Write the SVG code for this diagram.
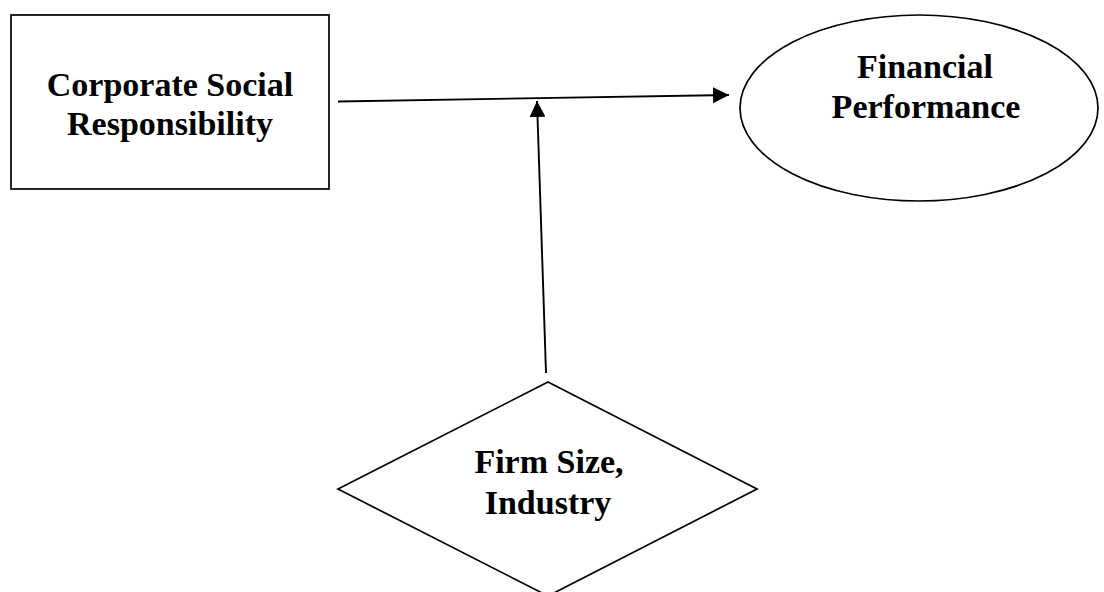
<svg xmlns="http://www.w3.org/2000/svg" width="1104" height="592" viewBox="0 0 1104 592">
<style>
.shape{fill:#fff;stroke:#000;stroke-width:1.7}
.lbl{font-family:"Liberation Serif","Times New Roman",serif;font-weight:bold;font-size:34px;fill:#000;text-anchor:middle}
.conn{stroke:#000;stroke-width:1.9;fill:none}
</style>
<defs>
<marker id="arr" viewBox="0 0 16 16" refX="16" refY="8" markerWidth="16" markerHeight="16" markerUnits="userSpaceOnUse" orient="auto">
<path d="M0,0 L16,8 L0,16 Z" fill="#000"/>
</marker>
</defs>
<rect width="1104" height="592" fill="#fff"/>
<g id="csr">
<rect class="shape" x="11" y="15" width="318" height="174"/>
<text class="lbl" x="170" y="96">Corporate Social</text>
<text class="lbl" x="170" y="135">Responsibility</text>
</g>
<g id="fp">
<ellipse class="shape" cx="919" cy="108" rx="179" ry="93" stroke-width="1.5"/>
<text class="lbl" x="925" y="78">Financial</text>
<text class="lbl" x="926" y="118">Performance</text>
</g>
<g id="moderator">
<polygon class="shape" points="548,382 757,489 548,596 338,489"/>
<text class="lbl" x="549" y="473">Firm Size,</text>
<text class="lbl" x="548" y="514">Industry</text>
</g>
<g id="connectors">
<line class="conn" x1="338" y1="101.5" x2="729" y2="95" marker-end="url(#arr)"/>
<line class="conn" x1="546" y1="373" x2="537" y2="101" marker-end="url(#arr)"/>
</g>
</svg>
